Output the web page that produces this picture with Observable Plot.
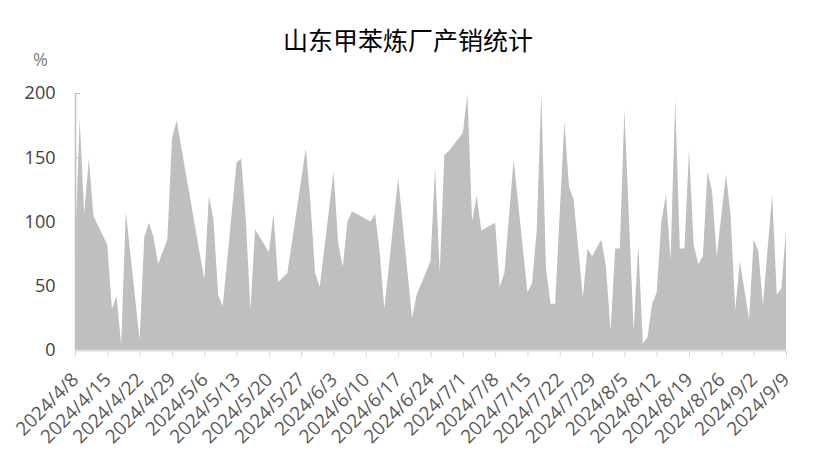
<!DOCTYPE html>
<html>
<head>
<meta charset="utf-8">
<script src="https://cdn.jsdelivr.net/npm/d3@7"></script>
<script src="https://cdn.jsdelivr.net/npm/@observablehq/plot@0.6"></script>
<style>
  body { margin: 0; background: #fff; }
  #wrap { position: relative; width: 816px; height: 461px; }
  #title { position: absolute; left: 0; top: 22px; width: 816px; text-align: center;
           font-family: "Noto Sans CJK SC", sans-serif; font-size: 25px; line-height: 34px; color: #000; }
</style>
</head>
<body>
<div id="wrap"><div id="title">山东甲苯炼厂产销统计</div></div>
<script>
const dates = [
  "2024-04-08","2024-04-09","2024-04-10","2024-04-11","2024-04-12","2024-04-15","2024-04-16","2024-04-17","2024-04-18","2024-04-19",
  "2024-04-22","2024-04-23","2024-04-24","2024-04-25","2024-04-26","2024-04-28","2024-04-29","2024-04-30",
  "2024-05-06","2024-05-07","2024-05-08","2024-05-09","2024-05-10","2024-05-13","2024-05-14","2024-05-15","2024-05-16","2024-05-17",
  "2024-05-20","2024-05-21","2024-05-22","2024-05-24","2024-05-28","2024-05-29","2024-05-30","2024-05-31",
  "2024-06-03","2024-06-04","2024-06-05","2024-06-06","2024-06-07","2024-06-11","2024-06-12","2024-06-13","2024-06-14",
  "2024-06-17","2024-06-20","2024-06-21","2024-06-24","2024-06-25","2024-06-26","2024-06-27","2024-06-28",
  "2024-07-01","2024-07-02","2024-07-03","2024-07-04","2024-07-05","2024-07-08","2024-07-09","2024-07-10","2024-07-12",
  "2024-07-15","2024-07-16","2024-07-17","2024-07-18","2024-07-19","2024-07-20","2024-07-21","2024-07-23","2024-07-24","2024-07-25",
  "2024-07-27","2024-07-28","2024-07-29","2024-07-31","2024-08-01","2024-08-02","2024-08-03","2024-08-04","2024-08-05",
  "2024-08-07","2024-08-08","2024-08-09","2024-08-10","2024-08-11","2024-08-12","2024-08-13","2024-08-14","2024-08-15","2024-08-16",
  "2024-08-17","2024-08-18","2024-08-19","2024-08-20","2024-08-21","2024-08-22","2024-08-23","2024-08-24","2024-08-25",
  "2024-08-27","2024-08-28","2024-08-29","2024-08-30","2024-09-01","2024-09-02","2024-09-03","2024-09-04",
  "2024-09-06","2024-09-07","2024-09-08","2024-09-09"
];
const values = [
  75,180,106,149,104,82,32,42,4,108,
  8,88,99,88,67,86,164,179,
  55,120,101,43,34,146,149,101,31,94,
  76,106,53,60,157,114,60,49,
  139,83,65,100,108,100,106,76,32,
  134,25,43,69,142,60,152,155,
  169,199,100,120,93,99,49,60,148,
  45,52,93,200,64,36,36,178,127,117,
  41,79,73,86,65,15,79,79,187,
  15,82,5,10,36,45,100,121,70,195,
  79,79,156,82,67,73,139,123,73,
  137,105,31,69,24,86,77,35,
  121,43,48,93
];
const tickLabels = ["2024/4/8","2024/4/15","2024/4/22","2024/4/29","2024/5/6","2024/5/13","2024/5/20","2024/5/27",
  "2024/6/3","2024/6/10","2024/6/17","2024/6/24","2024/7/1","2024/7/8","2024/7/15","2024/7/22","2024/7/29",
  "2024/8/5","2024/8/12","2024/8/19","2024/8/26","2024/9/2","2024/9/9"];
const yTicks = [0, 50, 100, 150, 200];

const parse = d3.utcParse("%Y-%m-%d");
const parseTick = d3.utcParse("%Y/%m/%d");
const data = dates.map((d, i) => ({date: parse(d), value: values[i]}));
const tickDates = tickLabels.map(s => parseTick(s));
const fmt = d3.utcFormat("%Y/%-m/%-d");
const x0 = tickDates[0], x1 = tickDates[tickDates.length - 1];

const chart = Plot.plot({
  width: 816, height: 461,
  marginLeft: 75, marginRight: 30, marginTop: 93, marginBottom: 111,
  style: {fontFamily: "'Open Sans', 'Noto Sans', sans-serif", background: "#fff"},
  x: {type: "utc", domain: [x0, x1]},
  y: {domain: [0, 200]},
  marks: [
    Plot.ruleX([x0], {y1: 0, y2: 200, stroke: "#bfbfbf", strokeWidth: 1.5}),
    Plot.axisY({ticks: yTicks, tickSize: 5, dx: 5, stroke: "#bfbfbf", tickFormat: () => "", label: null}),
    Plot.areaY(data, {x: "date", y: "value", fill: "#bfbfbf"}),
    Plot.axisY({ticks: yTicks, tickSize: 0, tickPadding: 20, fontSize: 18, fill: "#404040", label: null}),
    Plot.ruleY([0], {stroke: "#d9d9d9", strokeWidth: 2}),
    Plot.axisX({ticks: tickDates, tickFormat: fmt, tickRotate: -45, tickSize: 7, tickPadding: 19,
                stroke: "#d9d9d9", fill: "#595959", fontSize: 19, label: null}),
    Plot.text(["%"], {frameAnchor: "top-left", dx: -35, dy: -33, textAnchor: "middle", lineAnchor: "middle",
                      fontSize: 18, fill: "#7f7f7f"})
  ]
});
document.getElementById("wrap").prepend(chart);
</script>
</body>
</html>
